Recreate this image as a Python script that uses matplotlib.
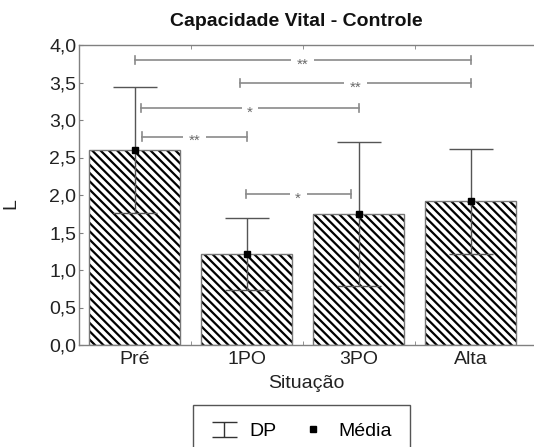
import matplotlib
matplotlib.use("Agg")
import matplotlib.pyplot as plt
from matplotlib.lines import Line2D
from matplotlib.path import Path
from matplotlib.ticker import FuncFormatter, MultipleLocator, FixedLocator

# ---- data ----
categories = ["Pré", "1PO", "3PO", "Alta"]
means = [2.60, 1.22, 1.75, 1.92]
sds = [0.84, 0.48, 0.96, 0.70]
# significance comparisons: (from index, to index, bracket height in L, label)
comparisons = [
    (0, 3, 3.80, "**"),
    (1, 3, 3.49, "**"),
    (0, 2, 3.16, "*"),
    (0, 1, 2.78, "**"),
    (1, 2, 2.01, "*"),
]
# small horizontal nudges of bracket ends (category units)
bracket_nudge = [(0.0, 0.0), (-0.06, 0.0), (0.06, 0.0), (0.065, 0.0), (-0.01, -0.07)]

plt.rcParams['font.family'] = ['Liberation Sans', 'DejaVu Sans']
plt.rcParams['hatch.linewidth'] = 1.6
plt.rcParams['hatch.color'] = 'black'

fig = plt.figure(figsize=(5.34, 4.47), dpi=100)
ax = fig.add_axes([79/534, 1-345/447, (534-79)/534, 300/447])

x = list(range(len(categories)))
gray = '#808080'

ax.bar(x, means, width=0.81, facecolor='white', edgecolor='black',
       hatch='\\\\\\\\', linewidth=0, zorder=1)
ax.bar(x, means, width=0.81, fill=False, edgecolor='#777777', linewidth=1.0, zorder=2)

ax.errorbar(x, means, yerr=sds, fmt='none', ecolor='#555555', elinewidth=1.0,
            capsize=16, capthick=1.0, zorder=3)
mk, = ax.plot(x, means, 's', color='black', ms=5, zorder=4, linestyle='none')

bcol = '#8a8a8a'
for (i, j, h, lab), (n1, n2) in zip(comparisons, bracket_nudge):
    x1, x2 = i + n1, j + n2
    ax.plot([x1, x2], [h, h], color=bcol, lw=1.2, zorder=3)
    ax.plot([x1, x1], [h - 0.055, h + 0.055], color=bcol, lw=1.2, zorder=3)
    ax.plot([x2, x2], [h - 0.055, h + 0.055], color=bcol, lw=1.2, zorder=3)
    ax.text((x1 + x2) / 2, h - 0.06, lab, ha='center', va='center', fontsize=11,
            color='#6a6a6a', zorder=5,
            bbox=dict(facecolor='white', edgecolor='none', pad=4.0))

ax.set_xlim(-0.497, 3.565)
ax.set_ylim(0, 4.0)
ax.yaxis.set_major_locator(MultipleLocator(0.5))
ax.yaxis.set_major_formatter(FuncFormatter(lambda v, p: f"{v:.1f}".replace('.', ',')))
ax.set_xticks(x)
ax.set_xticklabels(categories)
ax.xaxis.set_minor_locator(FixedLocator([0.5, 1.5, 2.5]))
ax.tick_params(axis='x', which='major', length=0, pad=4, labelsize=14, colors='#222222')
ax.tick_params(axis='x', which='minor', length=3, direction='in', top=True, color=gray)
ax.tick_params(axis='y', which='major', length=3, direction='in', pad=2, labelsize=14,
               color=gray, labelcolor='#222222')

for s in ['left', 'top', 'bottom']:
    ax.spines[s].set_color(gray)
    ax.spines[s].set_linewidth(1.0)
ax.spines['right'].set_visible(False)

ax.set_ylabel('L', fontsize=14, color='#222222')
ax.yaxis.set_label_coords(-0.132, 0.473)
ax.set_xlabel('Situação', fontsize=14, color='#222222')
ax.xaxis.set_label_coords(0.5, -0.1)

fig.text(296/534, 1-21/447, 'Capacidade Vital - Controle', ha='center', va='center',
         fontsize=14, fontweight='bold', color='#111111')

sd_path = Path([(-1, 0.6), (1, 0.6), (0, 0.6), (0, -0.6), (-1, -0.6), (1, -0.6)],
               [Path.MOVETO, Path.LINETO, Path.MOVETO, Path.LINETO, Path.MOVETO, Path.LINETO])
sd_handle = Line2D([], [], linestyle='none', marker=sd_path, markersize=18,
                   markerfacecolor='none', markeredgecolor='#333333', markeredgewidth=1.0)

leg = fig.legend([sd_handle, mk], ['DP', 'Média'], loc='upper left',
                 bbox_to_anchor=(193/534, 1-405/447), ncol=2, fontsize=14,
                 frameon=True, fancybox=False, edgecolor='#555555', framealpha=1,
                 borderpad=0.9, borderaxespad=0, handlelength=1.4, handletextpad=0.6,
                 columnspacing=1.2)
leg.get_frame().set_linewidth(1.0)

fig.savefig('out.png', dpi=100)
